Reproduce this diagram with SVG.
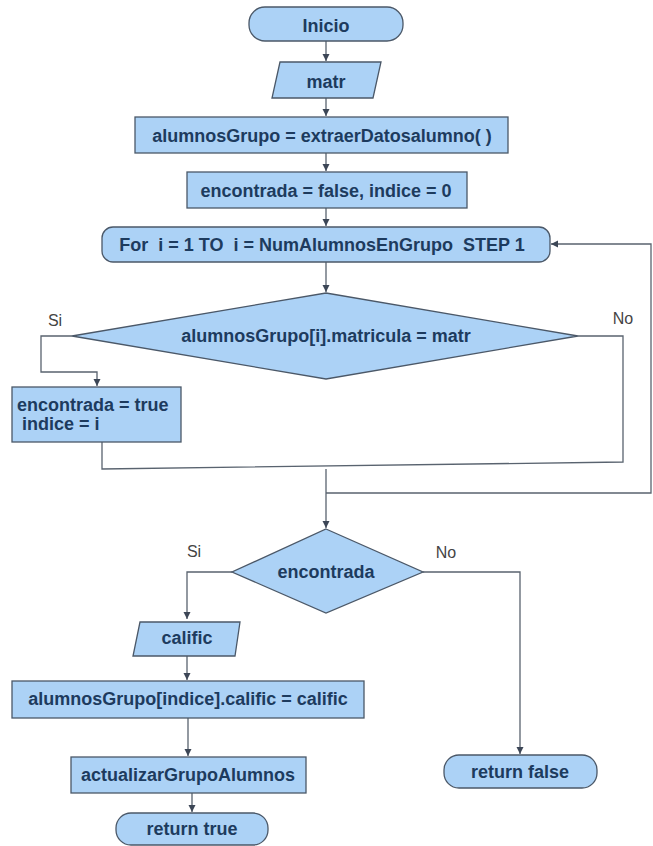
<svg xmlns="http://www.w3.org/2000/svg" width="653" height="846" viewBox="0 0 653 846">
<defs>
<marker id="ah" markerWidth="8" markerHeight="8" refX="7" refY="4" orient="auto" markerUnits="userSpaceOnUse">
<path d="M0,0.5 L7,4 L0,7.5 Z" fill="#3c4656"/>
</marker>
<style>
.n{fill:#acd2f6;stroke:#4b5868;stroke-width:1.3}
.t{font-family:"Liberation Sans",Arial,sans-serif;font-weight:bold;font-size:18px;fill:#1d3b5e;text-anchor:middle;white-space:pre}
.l{font-family:"Liberation Sans",Arial,sans-serif;font-size:16px;fill:#444;text-anchor:middle}
.c{fill:none;stroke:#59636f;stroke-width:1.3}
</style>
</defs>
<rect width="653" height="846" fill="#fff"/>
<g id="connectors">
<path class="c" d="M326,41 V61" marker-end="url(#ah)"/>
<path class="c" d="M326,98 V116" marker-end="url(#ah)"/>
<path class="c" d="M326,153 V171" marker-end="url(#ah)"/>
<path class="c" d="M326,208 V226" marker-end="url(#ah)"/>
<path class="c" d="M326,262 V292" marker-end="url(#ah)"/>
<path class="c" d="M72,336 H41 V372 H97 V386" marker-end="url(#ah)"/>
<path class="c" d="M578,336 H623 V462 L102,469 V442"/>
<path class="c" d="M326,469 V528" marker-end="url(#ah)"/>
<path class="c" d="M326,493 H651 V244 H551" marker-end="url(#ah)"/>
<path class="c" d="M232,572 H187 V619" marker-end="url(#ah)"/>
<path class="c" d="M423,572 H520 V754" marker-end="url(#ah)"/>
<path class="c" d="M187,656 V680" marker-end="url(#ah)"/>
<path class="c" d="M188,718 V756" marker-end="url(#ah)"/>
<path class="c" d="M192,793 V812" marker-end="url(#ah)"/>
<text class="l" x="55" y="326">Si</text>
<text class="l" x="623" y="324">No</text>
<text class="l" x="194" y="557">Si</text>
<text class="l" x="446" y="558">No</text>
</g>
<g id="inicio"><rect class="n" x="249" y="7" width="154" height="34" rx="16"/><text class="t" x="326" y="32">Inicio</text></g>
<g id="matr"><path class="n" d="M280,62 H381 L373,98 H272 Z"/><text class="t" x="326" y="88">matr</text></g>
<g id="extraer"><rect class="n" x="135" y="117" width="373" height="36"/><text class="t" x="322" y="142">alumnosGrupo = extraerDatosalumno( )</text></g>
<g id="init"><rect class="n" x="187" y="172" width="280" height="36"/><text class="t" x="326" y="197">encontrada = false, indice = 0</text></g>
<g id="for"><rect class="n" x="102" y="227" width="448" height="35" rx="11"/><text class="t" x="322" y="251">For  i = 1 TO  i = NumAlumnosEnGrupo  STEP 1</text></g>
<g id="cond1"><path class="n" d="M326,293 L578,336 L326,379 L72,336 Z"/><text class="t" x="326" y="342">alumnosGrupo[i].matricula = matr</text></g>
<g id="found"><rect class="n" x="12" y="387" width="169" height="55"/><text class="t" x="17" y="411" style="text-anchor:start">encontrada = true</text><text class="t" x="17" y="430" style="text-anchor:start"> indice = i</text></g>
<g id="cond2"><path class="n" d="M326,529 L423,572 L326,613 L232,572 Z"/><text class="t" x="326" y="578">encontrada</text></g>
<g id="calific"><path class="n" d="M140,622 H240 L235,656 H133 Z"/><text class="t" x="187" y="644">calific</text></g>
<g id="asignar"><rect class="n" x="12" y="681" width="352" height="37"/><text class="t" x="188" y="705">alumnosGrupo[indice].calific = calific</text></g>
<g id="actualizar"><rect class="n" x="71" y="757" width="235" height="36"/><text class="t" x="188" y="781">actualizarGrupoAlumnos</text></g>
<g id="rtrue"><rect class="n" x="116" y="813" width="152" height="32" rx="15"/><text class="t" x="192" y="835">return true</text></g>
<g id="rfalse"><rect class="n" x="444" y="755" width="153" height="33" rx="15"/><text class="t" x="520" y="778">return false</text></g>
</svg>
